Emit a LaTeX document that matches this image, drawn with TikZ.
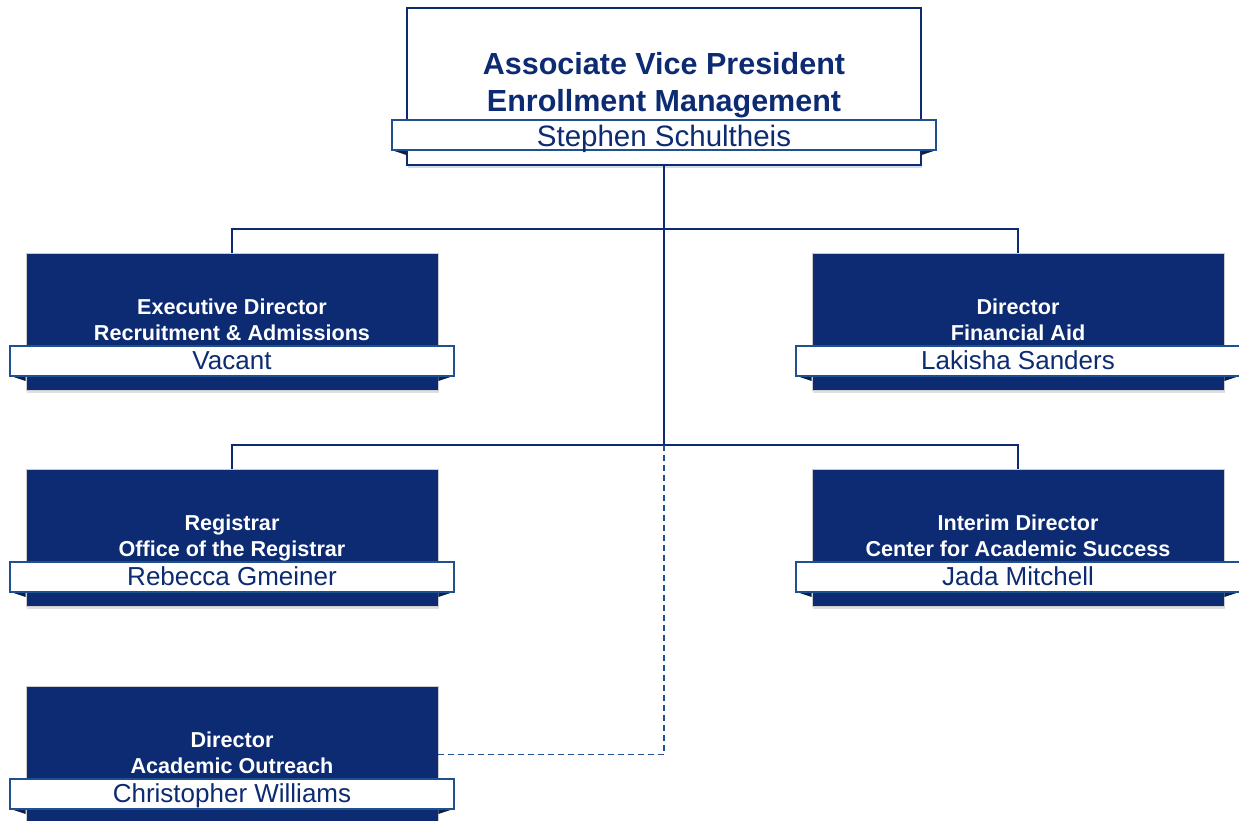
\documentclass[tikz,border=0pt]{standalone}
\usepackage{fontspec}
\setmainfont{Liberation Sans}
\usepackage{xcolor}
\usepackage{tikz}
\usetikzlibrary{positioning,shadows}
\definecolor{navy}{HTML}{0D2B73}
\definecolor{barblue}{HTML}{1F5190}
\definecolor{folddark}{HTML}{0A1F4F}

\tikzset{
	unitbox/.style={draw=gray!40, line width=0.8pt, fill=navy, minimum width=412pt, minimum height=137pt, inner sep=0pt,
		drop shadow={shadow xshift=1pt, shadow yshift=-3pt, opacity=0.25, fill=gray}},
	headbox/.style={draw=navy, line width=1.2pt, fill=white, minimum width=514pt, minimum height=157pt, inner sep=0pt,
		drop shadow={shadow xshift=1pt, shadow yshift=-3pt, opacity=0.2, fill=barblue}},
	namebar/.style={draw=barblue, line width=1.2pt, fill=white, minimum width=444pt, minimum height=30pt, inner sep=0pt,
		text=navy, font=\fontsize{26}{30}\selectfont, text height=17pt, text depth=1pt},
	unittitle/.style={text=white, font=\fontsize{21.6}{25.5}\selectfont\bfseries, align=center, inner sep=0pt, anchor=base},
	orgline/.style={draw=navy, line width=1.5pt},
	dotline/.style={draw=barblue, line width=1.5pt, dash pattern=on 6pt off 4pt},
	fold/.style={fill=folddark}
}

\begin{document}
\begin{tikzpicture}[x=1pt,y=-1pt]
	\useasboundingbox (0,0) rectangle (1239,820);
	% junctions of the two rows
	\coordinate (busA) at (664,229);
	\coordinate (busB) at (664,445);

	\node[headbox] (avp) at (664,86.5) {};
	\node[unitbox] (exec) at (232,321.5) {};
	\node[unitbox] (finaid) at (1018,321.5) {};
	\node[unitbox] (reg) at (232,537.5) {};
	\node[unitbox] (cas) at (1018,537.5) {};
	\node[unitbox] (outr) at (232,754.5) {};

	\draw[orgline] (avp.south) -- (busB);
	\draw[orgline] (exec.north) |- (busA) -| (finaid.north);
	\draw[orgline] (reg.north) |- (busB) -| (cas.north);
	\draw[dotline] (busB) |- (outr.east);

	\node[text=navy, font=\fontsize{30.5}{37}\selectfont\bfseries, align=center, inner sep=0pt, anchor=base] (avp-title) at (664,111) {Associate Vice President\\Enrollment Management};
	\node[unittitle] (exec-title) at (232,340) {Executive Director\\Recruitment \& Admissions};
	\node[unittitle] (finaid-title) at (1018,340) {Director\\Financial Aid};
	\node[unittitle] (reg-title) at (232,556) {Registrar\\Office of the Registrar};
	\node[unittitle] (cas-title) at (1018,556) {Interim Director\\Center for Academic Success};
	\node[unittitle] (outr-title) at (232,773) {Director\\Academic Outreach};

	% folded ends of the name bars
	\foreach \b/\y in {avp/135,exec/361,finaid/361,reg/577,cas/577,outr/794} {
		\fill[fold] (\b.west |- 0,\y+15) -- ++(-15,0) -- ++(15,5) -- cycle;
		\fill[fold] (\b.east |- 0,\y+15) -- ++(15,0) -- ++(-15,5) -- cycle;
	}

	\node[namebar, minimum width=544pt, font=\fontsize{29.5}{32}\selectfont, text height=22pt, text depth=0pt] (avp-name) at (664,135) {Stephen Schultheis};
	\node[namebar] (exec-name) at (232,361) {Vacant};
	\node[namebar] (finaid-name) at (1018,361) {Lakisha Sanders};
	\node[namebar] (reg-name) at (232,577) {Rebecca Gmeiner};
	\node[namebar] (cas-name) at (1018,577) {Jada Mitchell};
	\node[namebar] (outr-name) at (232,794) {Christopher Williams};
\end{tikzpicture}
\end{document}
